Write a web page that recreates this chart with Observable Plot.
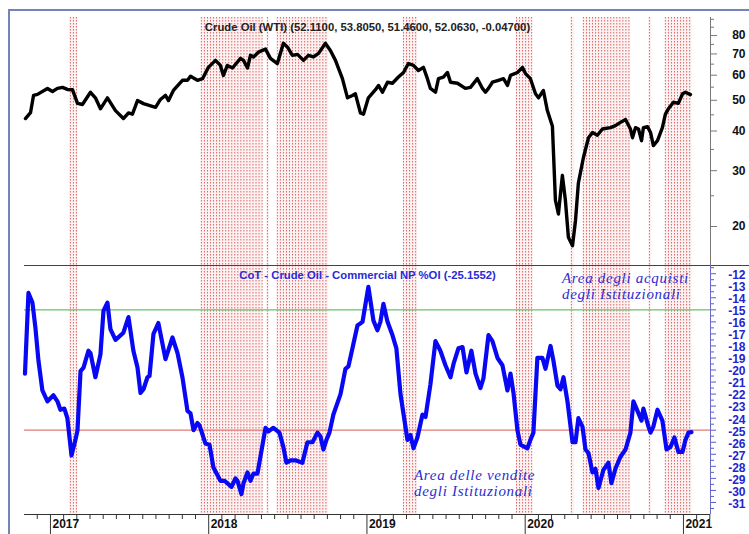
<!DOCTYPE html>
<html><head><meta charset="utf-8">
<script src="https://cdn.jsdelivr.net/npm/d3@7"></script>
<script src="https://cdn.jsdelivr.net/npm/@observablehq/plot@0.6"></script>
<style>
body{margin:0;background:#fff;}
#wrap{position:relative;width:749px;height:534px;overflow:hidden;background:#fff;font-family:"Liberation Sans",Arial,sans-serif;}
#frame{position:absolute;left:8px;top:9px;width:760px;height:540px;border-left:2px solid #7584b8;border-top:2px solid #7584b8;}
.panel{position:absolute;left:0;}
.note{position:absolute;font-family:"Liberation Serif",serif;font-style:italic;color:#2d2dd0;font-size:15px;line-height:14px;letter-spacing:0.7px;white-space:nowrap;}
</style></head><body>
<div id="wrap"><div id="frame"></div></div>
<script>
// ---- data (x = decimal year) ----
const titleTop = "Crude Oil (WTI) (52.1100, 53.8050, 51.4600, 52.0630, -0.04700)";
const titleBottom = "CoT - Crude Oil - Commercial NP %OI (-25.1552)";
const noteBuy = ["Area degli acquisti", "degli Istituzionali"];
const noteSell = ["Area delle vendite", "degli Istituzionali"];

const price = [[2016.842,43.8],[2016.874,45.7],[2016.893,51.8],[2016.918,52.2],[2016.981,54.5],[2017.013,53.3],[2017.044,54.5],[2017.076,54.9],[2017.107,54.1],[2017.139,54.0],[2017.171,48.9],[2017.202,48.5],[2017.253,53.0],[2017.284,50.9],[2017.316,47.0],[2017.360,50.9],[2017.411,46.4],[2017.461,43.8],[2017.493,45.6],[2017.518,45.2],[2017.550,49.9],[2017.588,48.8],[2017.664,47.5],[2017.695,50.3],[2017.727,51.8],[2017.746,49.9],[2017.777,53.7],[2017.834,57.8],[2017.866,57.8],[2017.885,59.5],[2017.929,57.8],[2017.961,58.5],[2017.998,63.5],[2018.043,66.8],[2018.074,64.4],[2018.093,59.9],[2018.118,64.4],[2018.150,63.2],[2018.201,67.8],[2018.220,66.8],[2018.245,63.2],[2018.264,69.3],[2018.283,68.5],[2018.314,70.9],[2018.359,72.5],[2018.390,67.8],[2018.434,65.3],[2018.472,75.6],[2018.498,73.5],[2018.529,69.3],[2018.561,69.8],[2018.599,66.8],[2018.630,69.3],[2018.662,68.5],[2018.694,70.3],[2018.738,75.6],[2018.769,71.8],[2018.801,66.8],[2018.845,58.5],[2018.877,50.9],[2018.908,51.8],[2018.927,52.4],[2018.959,45.6],[2018.978,45.2],[2019.009,50.9],[2019.054,54.0],[2019.073,55.7],[2019.098,53.0],[2019.130,57.0],[2019.161,56.6],[2019.199,59.2],[2019.231,61.2],[2019.262,65.3],[2019.294,64.4],[2019.325,62.1],[2019.357,63.5],[2019.382,58.5],[2019.401,54.5],[2019.433,53.0],[2019.452,58.5],[2019.483,59.2],[2019.509,61.2],[2019.528,57.0],[2019.572,56.6],[2019.622,54.5],[2019.654,54.9],[2019.698,58.5],[2019.730,54.5],[2019.749,53.0],[2019.768,54.5],[2019.793,57.0],[2019.831,57.8],[2019.863,58.5],[2019.888,55.7],[2019.907,59.9],[2019.951,61.2],[2019.983,63.5],[2020.002,60.7],[2020.033,58.5],[2020.065,52.4],[2020.084,50.9],[2020.115,53.7],[2020.140,46.4],[2020.172,41.4],[2020.191,24.2],[2020.210,21.9],[2020.235,29.0],[2020.254,24.2],[2020.273,18.5],[2020.299,17.4],[2020.318,20.9],[2020.336,27.4],[2020.368,33.0],[2020.400,38.1],[2020.425,39.6],[2020.456,38.8],[2020.488,40.6],[2020.539,41.0],[2020.570,41.6],[2020.602,42.6],[2020.634,43.5],[2020.665,40.6],[2020.678,38.1],[2020.697,41.0],[2020.716,40.6],[2020.735,37.3],[2020.747,41.0],[2020.773,41.3],[2020.792,39.6],[2020.810,36.0],[2020.836,37.3],[2020.867,41.0],[2020.886,45.2],[2020.905,47.0],[2020.937,49.3],[2020.968,48.9],[2020.994,52.4],[2021.013,53.0],[2021.044,52.1]];

const cot = [[2016.839,-20.3],[2016.861,-13.6],[2016.886,-14.4],[2016.905,-16.5],[2016.924,-19.2],[2016.949,-21.7],[2016.981,-22.6],[2017.019,-22.1],[2017.044,-22.6],[2017.063,-23.3],[2017.088,-23.2],[2017.107,-24.0],[2017.133,-27.1],[2017.158,-25.8],[2017.171,-25.0],[2017.190,-20.1],[2017.209,-19.8],[2017.240,-18.4],[2017.253,-18.6],[2017.284,-20.6],[2017.316,-18.7],[2017.335,-15.1],[2017.360,-14.4],[2017.379,-16.6],[2017.411,-17.5],[2017.461,-16.9],[2017.493,-15.6],[2017.524,-18.4],[2017.550,-19.8],[2017.569,-21.9],[2017.588,-21.6],[2017.613,-20.6],[2017.626,-20.5],[2017.651,-17.0],[2017.682,-16.1],[2017.727,-19.1],[2017.771,-17.3],[2017.803,-18.6],[2017.834,-20.6],[2017.866,-23.4],[2017.885,-23.6],[2017.904,-25.0],[2017.929,-24.4],[2017.942,-24.6],[2017.979,-26.1],[2018.005,-26.2],[2018.030,-28.1],[2018.074,-29.2],[2018.100,-29.2],[2018.144,-29.7],[2018.169,-29.0],[2018.182,-29.2],[2018.207,-30.3],[2018.220,-29.4],[2018.245,-28.5],[2018.264,-29.2],[2018.283,-28.6],[2018.308,-28.6],[2018.359,-24.8],[2018.378,-25.1],[2018.409,-24.8],[2018.447,-25.2],[2018.472,-26.4],[2018.491,-27.7],[2018.517,-27.5],[2018.548,-27.5],[2018.592,-27.7],[2018.624,-26.0],[2018.656,-26.0],[2018.687,-25.2],[2018.706,-25.5],[2018.725,-26.6],[2018.744,-25.8],[2018.763,-25.2],[2018.788,-23.7],[2018.833,-22.0],[2018.864,-19.9],[2018.883,-19.7],[2018.915,-17.8],[2018.940,-16.3],[2018.972,-16.0],[2019.009,-13.1],[2019.041,-15.9],[2019.066,-16.7],[2019.085,-16.0],[2019.104,-14.5],[2019.130,-16.0],[2019.161,-17.1],[2019.186,-18.2],[2019.212,-22.0],[2019.256,-25.8],[2019.275,-25.4],[2019.294,-26.5],[2019.319,-25.6],[2019.351,-23.7],[2019.370,-23.9],[2019.401,-21.2],[2019.433,-17.6],[2019.464,-18.4],[2019.496,-19.6],[2019.528,-20.6],[2019.547,-19.5],[2019.578,-18.2],[2019.604,-18.1],[2019.629,-20.2],[2019.660,-18.4],[2019.686,-20.3],[2019.717,-21.5],[2019.736,-20.7],[2019.768,-17.1],[2019.793,-17.6],[2019.825,-19.0],[2019.856,-19.6],[2019.888,-21.7],[2019.907,-20.3],[2019.926,-21.9],[2019.951,-25.0],[2019.970,-26.2],[2020.014,-26.5],[2020.033,-25.8],[2020.052,-25.2],[2020.077,-19.0],[2020.109,-19.0],[2020.128,-19.9],[2020.160,-18.0],[2020.178,-19.2],[2020.204,-21.3],[2020.223,-21.6],[2020.242,-20.6],[2020.267,-22.6],[2020.299,-26.0],[2020.318,-26.0],[2020.336,-24.0],[2020.362,-24.7],[2020.381,-26.6],[2020.400,-26.9],[2020.425,-28.5],[2020.444,-28.2],[2020.463,-29.8],[2020.494,-28.3],[2020.526,-27.7],[2020.545,-29.4],[2020.570,-28.2],[2020.602,-27.2],[2020.634,-26.6],[2020.665,-25.2],[2020.684,-22.6],[2020.716,-23.6],[2020.735,-24.2],[2020.747,-23.2],[2020.779,-24.7],[2020.792,-25.2],[2020.810,-24.7],[2020.836,-23.3],[2020.867,-24.2],[2020.893,-26.6],[2020.918,-26.4],[2020.943,-25.6],[2020.968,-26.8],[2020.994,-26.8],[2021.013,-25.8],[2021.032,-25.2],[2021.051,-25.16]];

// weeks with commercial NP below -25 (red dotted areas)
const bandStart = [2017.126, 2017.954, 2018.371, 2018.434, 2019.231, 2019.945, 2020.292, 2020.368, 2020.785, 2020.886];
const bandEnd   = [2017.171, 2018.340, 2018.384, 2018.757, 2019.319, 2020.046, 2020.311, 2020.665, 2020.798, 2021.051];

const priceTicks = [20, 30, 40, 50, 60, 70, 80];
const priceMinor = [25, 35, 45, 55, 65, 75, 85, 90];
const cotTicks = [-12,-13,-14,-15,-16,-17,-18,-19,-20,-21,-22,-23,-24,-25,-26,-27,-28,-29,-30,-31];
const yearTicks = [2017, 2018, 2019, 2020, 2021];
const buyLevel = -15, sellLevel = -25;

// ---- helpers ----
const X_DOMAIN = [2016.836, 2021.171];
const FONT = '"Liberation Sans", Arial, sans-serif';
const weekLines = [];
bandStart.forEach((s, i) => { for (let t = s; t <= bandEnd[i] + 1e-6; t += 7 / 365.25) weekLines.push(t); });
const bands = bandStart.map((s, i) => ({x1: s - 0.002, x2: bandEnd[i] + 0.002}));
const cotMinor = cotTicks.map(d => d + 0.5).concat([-31.5]);
const monthTicks = [];
for (let y = 2016; y <= 2021; y++) for (let m = 1; m < 12; m++) { const t = y + m / 12; if (t > X_DOMAIN[0] && t < X_DOMAIN[1]) monthTicks.push(t); }

const dots = {stroke: "#d86a6a", strokeWidth: 1, strokeDasharray: "1.5,1.5"};
const tint = {x1: "x1", x2: "x2", fill: "#fdf1f1"};

const topPlot = Plot.plot({
  width: 749, height: 266, marginTop: 17, marginBottom: 1, marginLeft: 24, marginRight: 39,
  style: {background: "transparent", fontFamily: FONT},
  x: {domain: X_DOMAIN, axis: null},
  y: {type: "log", domain: [15.07, 91.2], axis: null},
  marks: [
    Plot.rectX(bands, tint),
    Plot.ruleX(weekLines, {x: d => d, ...dots}),
    Plot.line(price, {x: d => d[0], y: d => d[1], stroke: "#000", strokeWidth: 3.4, strokeLinejoin: "round", strokeLinecap: "round"}),
    Plot.ruleX([X_DOMAIN[1]], {x: d => d, stroke: "#777"}),
    Plot.axisY(priceMinor, {anchor: "right", tickSize: 3, tickFormat: () => "", stroke: "#777", label: null}),
    Plot.axisY(priceTicks, {anchor: "right", tickSize: 6, tickFormat: () => "", stroke: "#777", label: null}),
    Plot.axisY(priceTicks, {anchor: "right", tickSize: 0, tickPadding: 35, textAnchor: "end", fontSize: 12, fontWeight: "bold", fill: "#111", tickFormat: d => String(d), label: null}),
    Plot.text([titleTop], {text: d => d, frameAnchor: "top", lineAnchor: "middle", dy: 10, fontSize: 11.3, fontWeight: "bold", fill: "#222"})
  ]
});
topPlot.classList.add("panel"); topPlot.style.top = "0px";

const botPlot = Plot.plot({
  width: 749, height: 269, marginTop: 0, marginBottom: 20, marginLeft: 24, marginRight: 39,
  style: {background: "transparent", fontFamily: FONT},
  x: {domain: X_DOMAIN, axis: null},
  y: {domain: [-32.0, -11.32], axis: null},
  marks: [
    Plot.rectX(bands, tint),
    Plot.ruleX(weekLines, {x: d => d, ...dots}),
    Plot.ruleY([buyLevel], {y: d => d, stroke: "#6cbf6c", strokeWidth: 1.2}),
    Plot.ruleY([sellLevel], {y: d => d, stroke: "#e07a7a", strokeWidth: 1.2}),
    Plot.line(cot, {x: d => d[0], y: d => d[1], stroke: "#0808f5", strokeWidth: 4.2, strokeLinejoin: "round", strokeLinecap: "round"}),
    Plot.ruleY([-11.32], {y: d => d, x1: X_DOMAIN[0], x2: 2021.5, stroke: "#444"}),
    Plot.ruleY([-32.0], {y: d => d, stroke: "#333"}),
    Plot.ruleX([X_DOMAIN[1]], {x: d => d, stroke: "#6a6ac8"}),
    Plot.axisY(cotMinor, {anchor: "right", tickSize: 3, tickFormat: () => "", stroke: "#5a5ad8", label: null}),
    Plot.axisY(cotTicks, {anchor: "right", tickSize: 5, tickFormat: () => "", stroke: "#5a5ad8", label: null}),
    Plot.axisY(cotTicks, {anchor: "right", tickSize: 0, tickPadding: 35, textAnchor: "end", dy: 1.5, fontSize: 12, fontWeight: "bold", fill: "#2424d0", tickFormat: d => String(d), label: null}),
    Plot.axisX(monthTicks, {anchor: "bottom", tickSize: 5, tickFormat: () => "", stroke: "#333", label: null}),
    Plot.axisX(yearTicks, {anchor: "bottom", tickSize: 20, tickFormat: () => "", stroke: "#333", label: null}),
    Plot.axisX(yearTicks, {anchor: "bottom", tickSize: 0, tickPadding: 5, textAnchor: "start", dx: 2, fontSize: 12, fontWeight: "bold", fill: "#111", tickFormat: d => String(d), label: null}),
    Plot.text([titleBottom], {text: d => d, frameAnchor: "top", lineAnchor: "middle", dy: 10, fontSize: 11.3, fontWeight: "bold", fill: "#2a2ad8"})
  ]
});
botPlot.classList.add("panel"); botPlot.style.top = "265px";

const wrap = document.getElementById("wrap");
wrap.appendChild(topPlot);
wrap.appendChild(botPlot);

function addNote(lines, left, top) {
  lines.forEach((line, i) => {
    const d = document.createElement("div");
    d.className = "note";
    d.style.left = left + "px"; d.style.top = (top + i * 15.5) + "px";
    d.textContent = line;
    wrap.appendChild(d);
  });
}
addNote(noteBuy, 562, 271);
addNote(noteSell, 414, 468);
</script>
</body></html>
